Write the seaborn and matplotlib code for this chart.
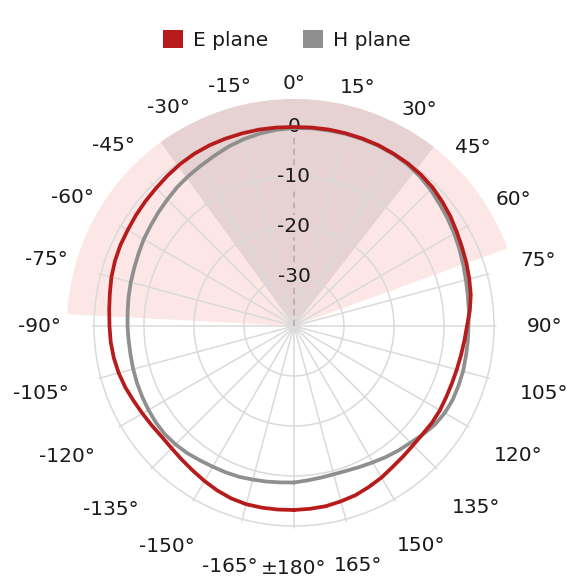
import numpy as np
import pandas as pd
import matplotlib
matplotlib.use("Agg")
import matplotlib.pyplot as plt
import seaborn as sns
from matplotlib.patches import Patch

# ---------------- data ----------------
angles_deg = list(range(-180, 181, 5))
e_plane_db = [-3.2, -3.15, -3.1, -3.1, -3.3, -3.7, -4.2, -4.7, -5.1, -5.4,
              -5.5, -5.3, -5.0, -4.6, -4.1, -3.7, -3.4, -3.2, -3.1, -2.9,
              -2.6, -2.2, -1.9, -1.7, -1.6, -1.4, -1.2, -1.0, -0.7, -0.4,
              -0.2, -0.1, -0.1, -0.1, -0.1, -0.15, -0.2, -0.15, -0.1, -0.1,
              -0.1, -0.1, -0.2, -0.3, -0.5, -0.8, -1.3, -1.8, -2.4, -2.9,
              -3.3, -3.7, -4.1, -4.7, -5.4, -5.8, -6.1, -6.3, -6.4, -6.4,
              -6.3, -6.3, -6.4, -6.3, -6.0, -5.6, -5.0, -4.5, -4.0, -3.7,
              -3.4, -3.3, -3.2]
h_plane_db = [-8.7, -8.6, -8.4, -8.2, -7.9, -7.7, -7.5, -7.2, -6.8, -6.5,
              -6.3, -6.3, -6.4, -6.5, -6.6, -6.7, -6.8, -6.8, -6.7, -6.6,
              -6.4, -6.2, -6.0, -5.7, -5.3, -5.0, -4.6, -4.2, -3.7, -3.3,
              -2.9, -2.4, -1.8, -1.3, -0.9, -0.6, -0.4, -0.3, -0.3, -0.2,
              -0.2, -0.2, -0.3, -0.5, -0.9, -1.4, -2.0, -2.5, -3.0, -3.5,
              -4.0, -4.4, -4.7, -4.9, -5.1, -5.1, -5.1, -5.0, -5.0, -5.0,
              -5.2, -5.6, -6.3, -7.0, -7.5, -8.0, -8.5, -8.9, -9.2, -9.3,
              -9.2, -9.0, -8.7]
series_names = ["E plane", "H plane"]

tick_angles_deg = [-165, -150, -135, -120, -105, -90, -75, -60, -45, -30, -15,
                   0, 15, 30, 45, 60, 75, 90, 105, 120, 135, 150, 165, 180]
tick_labels = ["-165°", "-150°", "-135°", "-120°", "-105°", "-90°", "-75°",
               "-60°", "-45°", "-30°", "-15°", "0°", "15°", "30°", "45°",
               "60°", "75°", "90°", "105°", "120°", "135°", "150°", "165°",
               "±180°"]
r_ticks = [-30, -20, -10, 0]
r_tick_labels = ["-30", "-20", "-10", "0"]

band_start_deg = [-87, -36]
band_end_deg = [70, 38]
band_outer_db = 5.4

# ---------------- style ----------------
RED = "#b71c1c"
GRAY = "#8f8f8f"
LIGHT = "#fde6e6"
DARK = "#e6d2d3"
GRID = "#dadada"
TXT = "#1a1a1a"
R_MIN, R_MAX = -40, 0.5
FS = 14.5

sns.set_style("white")
plt.rcParams["font.family"] = ["DejaVu Sans"]

fig = plt.figure(figsize=(5.8, 5.8), dpi=100)
cx, cy, rad = 294, 580 - 326, 202.5
ax = fig.add_axes([(cx - rad) / 580, (cy - rad) / 580, 2 * rad / 580, 2 * rad / 580],
                  projection="polar")
ax.set_theta_zero_location("N")
ax.set_theta_direction(-1)
ax.set_facecolor("none")
ax.spines["polar"].set_visible(False)

# shaded sectors
for s, e, c in zip(band_start_deg, band_end_deg, [LIGHT, DARK]):
    ax.bar(np.deg2rad(s), band_outer_db - R_MIN, width=np.deg2rad(e - s), bottom=R_MIN,
           align="edge", color=c, linewidth=0, clip_on=False, zorder=0.5)

# series
n = len(angles_deg)
df = pd.DataFrame({
    "theta": np.deg2rad(angles_deg * 2),
    "dB": e_plane_db + h_plane_db,
    "plane": [series_names[0]] * n + [series_names[1]] * n,
})
sns.lineplot(data=df, x="theta", y="dB", hue="plane", hue_order=["H plane", "E plane"],
             palette={"E plane": RED, "H plane": GRAY}, linewidth=2.7, ax=ax,
             legend=False, sort=False, estimator=None, zorder=3)
for ln in ax.lines:
    ln.set_solid_joinstyle("round")
ax.set_xlabel("")
ax.set_ylabel("")

# grid
grid_angles = [a % 360 for a in tick_angles_deg if a != 0]
ax.set_xticks(np.deg2rad(grid_angles))
ax.set_xticklabels([])
ax.set_yticks(r_ticks)
ax.set_yticklabels([])
ax.set_xlim(0, 2 * np.pi)
ax.set_ylim(R_MIN, R_MAX)
ax.tick_params(length=0)
ax.grid(True, color=GRID, linewidth=1.1)
ax.axvline(0, color="#b3a9a9", lw=1.1, ls=(0, (4, 3)), zorder=1.6)

# radial labels
for r, lab in zip(r_ticks, r_tick_labels):
    ax.text(0, r, lab, ha="center", va="center", fontsize=FS, color=TXT, zorder=1.8,
            bbox=dict(facecolor=DARK, edgecolor="none", pad=1.0))

# angle labels
fig.canvas.draw()
renderer = fig.canvas.get_renderer()
px_per_db = ax.get_window_extent(renderer).width / 2 / (R_MAX - R_MIN)
for a, lab in zip(tick_angles_deg, tick_labels):
    th = np.deg2rad(a)
    t = ax.text(th, 0, lab, ha="center", va="center", fontsize=FS, color=TXT, clip_on=False)
    bb = t.get_window_extent(renderer)
    r_px = 233 + 0.5 * bb.width * abs(np.sin(th)) + 0.5 * bb.height * abs(np.cos(th))
    t.set_position((th, R_MIN + r_px / px_per_db))

# legend
handles = [Patch(facecolor=RED, edgecolor="none", label=series_names[0]),
           Patch(facecolor=GRAY, edgecolor="none", label=series_names[1])]
fig.legend(handles=handles, loc="center", bbox_to_anchor=(0.495, 1 - 40 / 580), ncol=2,
           frameon=False, fontsize=FS, handlelength=1.0, handleheight=1.0,
           handletextpad=0.5, columnspacing=1.7, labelcolor=TXT)

fig.savefig("out.png", dpi=100)
